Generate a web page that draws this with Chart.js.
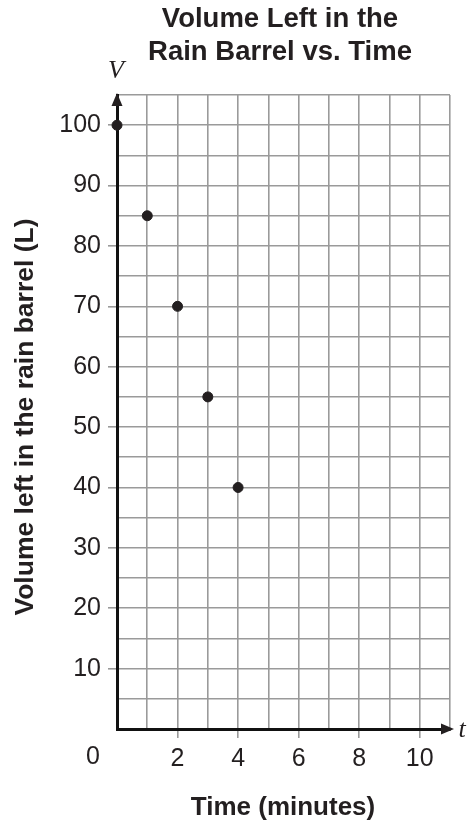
<!DOCTYPE html>
<html>
<head>
<meta charset="utf-8">
<script src="https://cdn.jsdelivr.net/npm/chart.js@4"></script>
<style>
    body { margin: 0; background: #fff; }
    #wrap { width: 468px; height: 823px; position: relative; }
</style>
</head>
<body>
<div id="wrap"><canvas id="barrelChart"></canvas></div>
<script>
// 数据
const times = [0, 1, 2, 3, 4];
const volumes = [100, 85, 70, 55, 40];

// 刻度标签
const xTickLabels = [2, 4, 6, 8, 10];
const yTickLabels = [10, 20, 30, 40, 50, 60, 70, 80, 90, 100];

const titleLines = ['Volume Left in the', 'Rain Barrel vs. Time'];
const xTitle = 'Time (minutes)';
const yTitle = 'Volume left in the rain barrel (L)';

const SANS = '"Liberation Sans", Arial, Helvetica, sans-serif';
const SERIF = '"Liberation Serif", "Times New Roman", serif';
const GRID = '#9a9a9a';
const INK = '#231f20';

/**
 * 标题、箭头、坐标轴名称
 */
const decorPlugin = {
    id: 'decor',
    afterDraw(chart) {
        const ctx = chart.ctx;
        const area = chart.chartArea;
        ctx.save();
        ctx.fillStyle = INK;

        // 标题
        ctx.font = 'bold 27.5px ' + SANS;
        ctx.textAlign = 'center';
        ctx.textBaseline = 'alphabetic';
        ctx.fillText(titleLines[0], 280, 27);
        ctx.fillText(titleLines[1], 280, 60);

        // x轴名称
        ctx.font = 'bold 26px ' + SANS;
        ctx.fillText(xTitle, 283, 815);

        // y轴名称
        ctx.save();
        ctx.translate(33, 417);
        ctx.rotate(-Math.PI / 2);
        ctx.font = 'bold 26.5px ' + SANS;
        ctx.fillText(yTitle, 0, 0);
        ctx.restore();

        // 原点 0
        ctx.font = '25px ' + SANS;
        ctx.textBaseline = 'middle';
        ctx.fillText('0', 93, 757);

        // 箭头
        const x0 = area.left;
        const y0 = area.bottom;
        ctx.beginPath();
        ctx.moveTo(x0, area.top - 2);
        ctx.lineTo(x0 - 5.5, area.top + 11);
        ctx.lineTo(x0 + 5.5, area.top + 11);
        ctx.closePath();
        ctx.fill();

        ctx.beginPath();
        ctx.moveTo(area.right + 4, y0);
        ctx.lineTo(area.right - 9, y0 - 5.5);
        ctx.lineTo(area.right - 9, y0 + 5.5);
        ctx.closePath();
        ctx.fill();

        // 变量名
        ctx.font = 'italic 26px ' + SERIF;
        ctx.textAlign = 'center';
        ctx.textBaseline = 'alphabetic';
        ctx.fillText('V', 116, 78);
        ctx.fillText('t', 462, 737);

        ctx.restore();
    }
};

const ctx = document.getElementById('barrelChart').getContext('2d');
new Chart(ctx, {
    type: 'scatter',
    data: {
        datasets: [{
            data: times.map((t, i) => ({ x: t, y: volumes[i] })),
            backgroundColor: INK,
            borderColor: INK,
            pointRadius: 5,
            pointHoverRadius: 5,
            clip: false
        }]
    },
    options: {
        responsive: true,
        maintainAspectRatio: false,
        animation: false,
        layout: {
            padding: { top: 95, right: 18, left: 0, bottom: 0 }
        },
        plugins: {
            legend: { display: false },
            tooltip: { enabled: false }
        },
        scales: {
            x: {
                type: 'linear',
                min: 0,
                max: 11,
                afterFit(scale) { scale.height = 94; },
                afterBuildTicks(scale) {
                    scale.ticks = [];
                    for (let v = 0; v <= 11; v++) scale.ticks.push({ value: v });
                },
                ticks: {
                    autoSkip: false,
                    maxRotation: 0,
                    padding: 6,
                    color: INK,
                    font: { family: SANS, size: 25 },
                    callback: (v) => xTickLabels.includes(v) ? String(v) : ''
                },
                grid: {
                    color: GRID,
                    lineWidth: 1.6,
                    tickLength: 9,
                    tickColor: (c) => c.tick && xTickLabels.includes(c.tick.value) ? GRID : 'rgba(0,0,0,0)'
                },
                border: { display: true, color: '#111', width: 3 }
            },
            y: {
                type: 'linear',
                min: 0,
                max: 105,
                afterFit(scale) { scale.width = 117; },
                afterBuildTicks(scale) {
                    scale.ticks = [];
                    for (let v = 0; v <= 105; v += 5) scale.ticks.push({ value: v });
                },
                ticks: {
                    autoSkip: false,
                    padding: 7,
                    color: INK,
                    font: { family: SANS, size: 25 },
                    callback: (v) => yTickLabels.includes(v) ? String(v) : ''
                },
                grid: {
                    color: GRID,
                    lineWidth: 1.6,
                    tickLength: 9,
                    tickColor: (c) => c.tick && yTickLabels.includes(c.tick.value) ? GRID : 'rgba(0,0,0,0)'
                },
                border: { display: true, color: '#111', width: 3 }
            }
        }
    },
    plugins: [decorPlugin]
});
</script>
</body>
</html>
